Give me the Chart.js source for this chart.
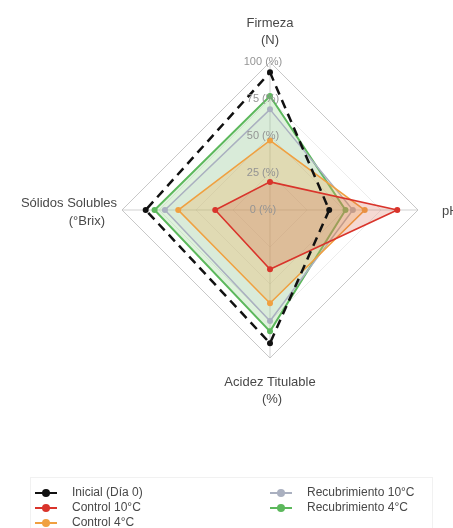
<!DOCTYPE html>
<html>
<head>
<meta charset="utf-8">
<script src="https://cdn.jsdelivr.net/npm/chart.js@4.4.1/dist/chart.umd.min.js"></script>
<style>
  html, body { margin: 0; padding: 0; background: #ffffff; }
  canvas { display: block; }
</style>
</head>
<body>
<canvas id="radar" width="453" height="528"></canvas>
<script>
// Axis names (one entry per spoke, split into lines)
const axisLabels = [['Firmeza', '(N)'], ['pH'], ['Acidez Titulable', '(%)'], ['Sólidos Solubles', '(°Brix)']];
// Radial ticks
const tickValues = [0, 25, 50, 75, 100];
const tickLabels = ['0 (%)', '25 (%)', '50 (%)', '75 (%)', '100 (%)'];
// Series names
const seriesNames = ['Inicial (Día 0)', 'Control 10°C', 'Control 4°C', 'Recubrimiento 10°C', 'Recubrimiento 4°C'];
// Normalised values (%), order: Firmeza, pH, Acidez, Sólidos
const inicial = [93, 40, 90, 84];
const control10 = [19, 86, 40, 37];
const control4 = [47, 64, 63, 62];
const recub10 = [68, 56, 75, 71];
const recub4 = [77, 51, 82, 78];

const seriesValues = [inicial, control10, control4, recub10, recub4];
const seriesStyles = [
  { line: '#111111', fill: 'rgba(0,0,0,0)', width: 2.5, dash: [9, 6] },
  { line: '#d9342b', fill: 'rgba(215,95,70,0.24)', width: 1.6, dash: [] },
  { line: '#f0a040', fill: 'rgba(245,170,70,0.26)', width: 1.6, dash: [] },
  { line: '#aab0c0', fill: 'rgba(170,180,195,0.12)', width: 1.5, dash: [] },
  { line: '#5cb85c', fill: 'rgba(120,200,110,0.24)', width: 2, dash: [] }
];
// Stacking: green at the bottom, then grey, orange, red, dashed black on top
const drawOrder = [0, 1, 2, 3, 4];

const FONT = '"Liberation Sans", Arial, sans-serif';

// Where each spoke's name sits: distance beyond the outer ring, alignment, per-line offsets
const pointLabelLayout = [
  { extra: 22, align: 'center', lines: [{ dx: 0, dy: -17 }, { dx: 0, dy: 0 }] },
  { extra: 24, align: 'left', lines: [{ dx: 0, dy: 1 }] },
  { extra: 24, align: 'center', lines: [{ dx: 0, dy: 0 }, { dx: 2, dy: 17 }] },
  { extra: 5, align: 'right', lines: [{ dx: 0, dy: -7 }, { dx: -12, dy: 11 }] }
];

const overlayPlugin = {
  id: 'radarOverlay',
  afterDatasetsDraw(chart) {
    const ctx = chart.ctx;
    const r = chart.scales.r;
    ctx.save();

    // tick labels along the vertical spoke
    ctx.font = '11px ' + FONT;
    ctx.fillStyle = '#949494';
    ctx.textAlign = 'center';
    ctx.textBaseline = 'middle';
    tickValues.forEach((v, i) => {
      const d = r.getDistanceFromCenterForValue(v);
      ctx.fillText(tickLabels[i], r.xCenter - 7, r.yCenter - d);
    });

    // spoke names
    ctx.font = '13px ' + FONT;
    ctx.fillStyle = '#484848';
    axisLabels.forEach((lines, i) => {
      const lay = pointLabelLayout[i];
      const p = r.getPointPosition(i, r.drawingArea + lay.extra);
      ctx.textAlign = lay.align;
      lines.forEach((txt, k) => {
        ctx.fillText(txt, p.x + lay.lines[k].dx, p.y + lay.lines[k].dy);
      });
    });
    ctx.restore();
  },
  afterDraw(chart) {
    // legend in two columns, three rows each
    const ctx = chart.ctx;
    ctx.save();
    ctx.strokeStyle = '#f1f1f1';
    ctx.lineWidth = 1;
    ctx.strokeRect(30.5, 477.5, 402, 60);
    ctx.font = '12px ' + FONT;
    ctx.textBaseline = 'middle';
    ctx.textAlign = 'left';
    const cols = [35, 270];
    const rows = [493, 508, 523];
    seriesNames.forEach((name, i) => {
      const col = Math.floor(i / 3), row = i % 3;
      const x = cols[col], y = rows[row];
      const st = seriesStyles[i];
      ctx.strokeStyle = st.line;
      ctx.lineWidth = 2;
      ctx.beginPath();
      ctx.moveTo(x, y);
      ctx.lineTo(x + 22, y);
      ctx.stroke();
      ctx.fillStyle = st.line;
      ctx.beginPath();
      ctx.arc(x + 11, y, 4, 0, Math.PI * 2);
      ctx.fill();
      ctx.fillStyle = '#484848';
      ctx.fillText(name, x + 37, y);
    });
    ctx.restore();
  }
};

const datasets = seriesNames.map((name, i) => ({
  label: name,
  data: seriesValues[i],
  borderColor: seriesStyles[i].line,
  backgroundColor: seriesStyles[i].fill,
  borderWidth: seriesStyles[i].width,
  borderDash: seriesStyles[i].dash,
  fill: true,
  pointRadius: 3,
  pointBackgroundColor: seriesStyles[i].line,
  pointBorderColor: seriesStyles[i].line,
  pointBorderWidth: 0,
  order: drawOrder[i]
}));

new Chart(document.getElementById('radar'), {
  type: 'radar',
  data: { labels: axisLabels.map(l => l.join(' ')), datasets },
  options: {
    responsive: false,
    animation: false,
    layout: { padding: { left: 122, right: 35, top: 62, bottom: 170 } },
    plugins: { legend: { display: false }, tooltip: { enabled: false } },
    elements: { line: { tension: 0 } },
    scales: {
      r: {
        min: 0,
        max: 100,
        afterBuildTicks(scale) { scale.ticks = tickValues.map(v => ({ value: v })); },
        ticks: { display: false },
        pointLabels: { display: false },
        grid: {
          color: (c) => c.index === tickValues.length - 1 ? '#c8c8c8' : 'rgba(200,200,200,0.35)',
          lineWidth: 1
        },
        angleLines: { color: 'rgba(190,190,190,0.7)', lineWidth: 1 }
      }
    }
  },
  plugins: [overlayPlugin]
});
</script>
</body>
</html>
